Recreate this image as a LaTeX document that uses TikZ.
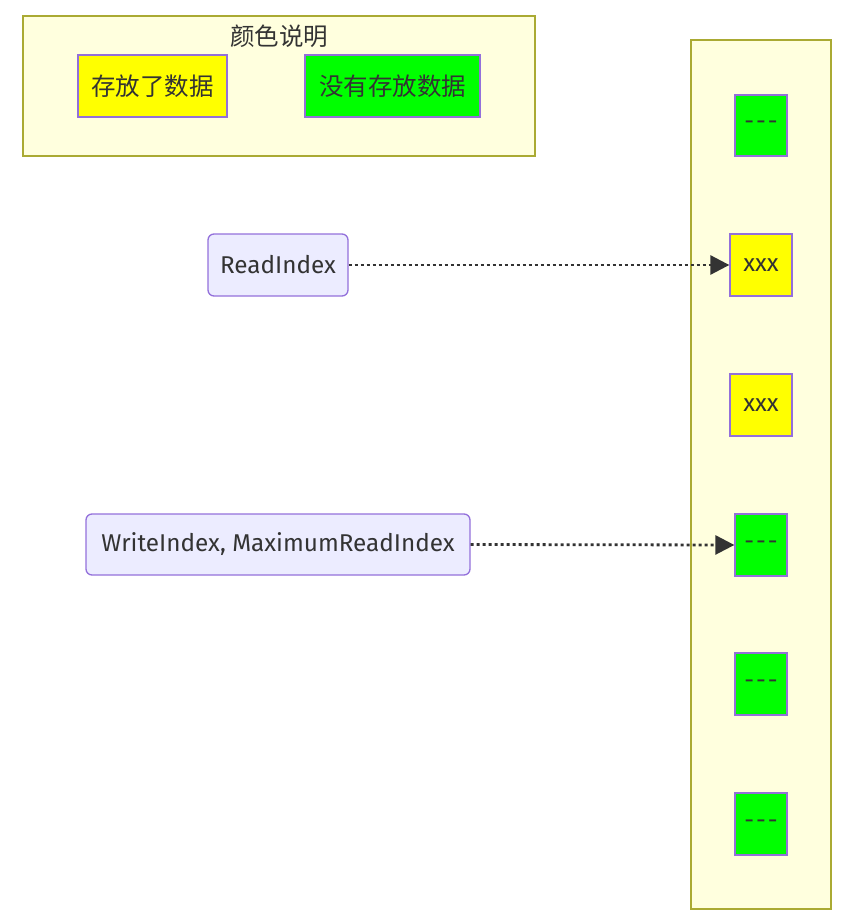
\documentclass[tikz,border=0pt]{standalone}
\usepackage{fontspec}
\setmainfont{Fira Sans}
\newfontfamily\cjk{Noto Sans CJK SC}
\usetikzlibrary{arrows.meta}
\definecolor{txt}{HTML}{333333}
\definecolor{clusterfill}{HTML}{FFFFDE}
\definecolor{clusterline}{HTML}{AAAA33}
\definecolor{nodefill}{HTML}{ECECFF}
\definecolor{nodeline}{HTML}{9370DB}
\definecolor{yel}{HTML}{FFFF00}
\definecolor{grn}{HTML}{00FF00}
\tikzset{
  cluster/.style={draw=clusterline, fill=clusterfill, line width=1.3pt, inner sep=0pt},
  box/.style={draw=nodeline, line width=1.3pt, inner sep=0pt, text=txt, font=\fontsize{24.3}{28}\selectfont},
  cjkfont/.style={font=\cjk\fontsize{24.5}{28}\selectfont},
  idx/.style={box, fill=nodefill, rounded corners=6pt},
  full/.style={box, fill=yel},
  empty/.style={box, fill=grn},
  ptr/.style={draw=txt, line width=2.8pt, dash pattern=on 3pt off 3pt, -{Triangle[length=19pt,width=19pt]}},
}
\newcommand{\blank}{-\kern2pt-\kern2pt-}
\begin{document}
\begin{tikzpicture}[x=1pt,y=-1pt]
\useasboundingbox (0,0) rectangle (855,923);
% legend
\node[cluster, minimum width=512pt, minimum height=140pt] (legend) at (279,86) {};
\node[text=txt, cjkfont, inner sep=0pt] (title) at (279,36) {颜色说明};
\node[full, cjkfont, minimum width=149pt, minimum height=62pt] (lfull) at (152.5,86) {存放了数据};
\node[empty, cjkfont, minimum width=175pt, minimum height=62pt] (lempty) at (392.5,86) {没有存放数据};
% buffer
\node[cluster, minimum width=140pt, minimum height=869pt] (buf) at (761,474.5) {};
\node[empty, minimum width=52pt, minimum height=61pt] (c1) at (761,125.5) {\blank};
\node[full, minimum width=62pt, minimum height=62pt] (c2) at (761,265) {xxx};
\node[full, minimum width=62pt, minimum height=62pt] (c3) at (761,405) {xxx};
\node[empty, minimum width=52pt, minimum height=62pt] (c4) at (761,545) {\blank};
\node[empty, minimum width=52pt, minimum height=62pt] (c5) at (761,684) {\blank};
\node[empty, minimum width=52pt, minimum height=62pt] (c6) at (761,824) {\blank};
% indices
\node[idx, minimum width=140pt, minimum height=62pt] (read) at (278,265) {ReadIndex};
\node[idx, minimum width=384pt, minimum height=61pt] (write) at (278,544.5) {WriteIndex, MaximumReadIndex};
\draw[ptr] (read.east) -- (c2.west);
\draw[ptr] (write.east) -- (c4.west);
\end{tikzpicture}
\end{document}
